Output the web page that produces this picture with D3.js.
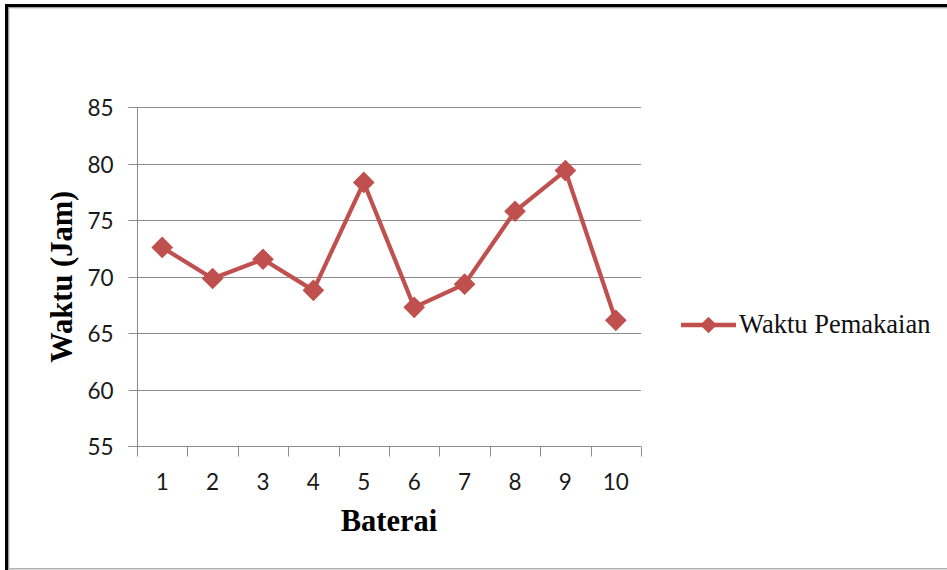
<!DOCTYPE html>
<html>
<head>
<meta charset="utf-8">
<script src="https://cdn.jsdelivr.net/npm/d3@7"></script>
<style>
  html, body { margin: 0; padding: 0; background: #fff; }
  svg { display: block; }
</style>
</head>
<body>
<svg id="chart" width="947" height="570"></svg>
<script>
// Battery usage time per battery
const categories = ["1", "2", "3", "4", "5", "6", "7", "8", "9", "10"];
const waktuPemakaian = [72.6, 69.85, 71.55, 68.8, 78.35, 67.3, 69.35, 75.8, 79.4, 66.15];
const yTicks = [55, 60, 65, 70, 75, 80, 85];
const seriesName = "Waktu Pemakaian";
const xTitle = "Baterai";
const yTitle = "Waktu (Jam)";

const W = 947, H = 570;
const plot = { left: 137, right: 641, top: 107.3, bottom: 446.3 };
const red = "#C0504D";
const grid = "#8C8C8C";
const tickFont = "Lato, 'Open Sans', sans-serif";
const serif = "'Liberation Serif', 'Times New Roman', serif";

const svg = d3.select("#chart");

// frame around the chart
svg.append("rect").attr("x", 0).attr("y", 0).attr("width", W).attr("height", H).attr("fill", "#fff");
svg.append("rect").attr("x", 5).attr("y", 4).attr("width", W - 5).attr("height", 3).attr("fill", "#000");
svg.append("rect").attr("x", 5).attr("y", 4).attr("width", 3).attr("height", H - 4).attr("fill", "#000");
svg.append("rect").attr("x", 8).attr("y", 7).attr("width", W - 8).attr("height", 1.3).attr("fill", "#A0A0A0");
svg.append("rect").attr("x", 8).attr("y", 7).attr("width", 1.3).attr("height", H - 7).attr("fill", "#A0A0A0");
svg.append("rect").attr("x", 8).attr("y", 568).attr("width", W - 8).attr("height", 1.5).attr("fill", "#B0B0B0");

const x = d3.scaleBand().domain(categories).range([plot.left, plot.right]).padding(0);
const y = d3.scaleLinear().domain([55, 85]).range([plot.bottom, plot.top]);

// horizontal gridlines
svg.append("g")
  .selectAll("line")
  .data(yTicks.filter(t => t !== 55))
  .join("line")
  .attr("x1", plot.left).attr("x2", plot.right)
  .attr("y1", d => Math.round(y(d)) + 0.5).attr("y2", d => Math.round(y(d)) + 0.5)
  .attr("stroke", grid).attr("stroke-width", 1);

// y axis
const yAxis = svg.append("g")
  .attr("transform", `translate(${plot.left + 0.5},0)`)
  .call(d3.axisLeft(y).tickValues(yTicks).tickSize(9).tickPadding(15));
yAxis.select(".domain").attr("stroke", grid).attr("d", `M-9,${Math.round(y(55)) + 0.5}H0V${Math.round(y(85)) + 0.5}H-9`);
yAxis.selectAll(".tick line").attr("stroke", grid);
yAxis.selectAll(".tick").attr("transform", d => `translate(0,${Math.round(y(d)) + 0.5})`);
yAxis.selectAll("text")
  .attr("fill", "#1a1a1a")
  .attr("font-family", tickFont)
  .attr("font-size", 22.5)
  .attr("dy", "0.36em");

// x axis with tick marks on category boundaries
const xAxisG = svg.append("g").attr("transform", `translate(0,${Math.round(plot.bottom) + 0.5})`);
xAxisG.append("line")
  .attr("x1", plot.left).attr("x2", plot.right)
  .attr("stroke", grid).attr("stroke-width", 1);
const boundaries = categories.map(c => x(c)).concat([x(categories[categories.length - 1]) + x.bandwidth()]);
xAxisG.selectAll("line.tk")
  .data(boundaries)
  .join("line")
  .attr("class", "tk")
  .attr("x1", d => Math.round(d) + 0.5).attr("x2", d => Math.round(d) + 0.5)
  .attr("y1", 0).attr("y2", 10)
  .attr("stroke", grid).attr("stroke-width", 1);
xAxisG.selectAll("text")
  .data(categories)
  .join("text")
  .attr("x", d => x(d) + x.bandwidth() / 2)
  .attr("y", 43)
  .attr("text-anchor", "middle")
  .attr("fill", "#1a1a1a")
  .attr("font-family", tickFont)
  .attr("font-size", 22.5)
  .text(d => d);

// axis titles
svg.append("text")
  .attr("x", (plot.left + plot.right) / 2)
  .attr("y", 531)
  .attr("text-anchor", "middle")
  .attr("font-family", serif)
  .attr("font-weight", "bold")
  .attr("font-size", 30.5)
  .attr("fill", "#000")
  .text(xTitle);

svg.append("text")
  .attr("transform", `translate(72,${(plot.top + plot.bottom) / 2}) rotate(-90)`)
  .attr("text-anchor", "middle")
  .attr("font-family", serif)
  .attr("font-weight", "bold")
  .attr("font-size", 30.5)
  .attr("fill", "#000")
  .text(yTitle);

// series line
const line = d3.line()
  .x((d, i) => x(categories[i]) + x.bandwidth() / 2)
  .y(d => y(d));

svg.append("path")
  .datum(waktuPemakaian)
  .attr("d", line)
  .attr("fill", "none")
  .attr("stroke", red)
  .attr("stroke-width", 4.2)
  .attr("stroke-linejoin", "round");

const diamond = d3.symbol().type(d3.symbolSquare).size(235);
svg.append("g")
  .selectAll("path")
  .data(waktuPemakaian)
  .join("path")
  .attr("d", diamond)
  .attr("transform", (d, i) => `translate(${x(categories[i]) + x.bandwidth() / 2},${y(d)}) rotate(45)`)
  .attr("fill", red);

// legend
const lg = svg.append("g").attr("transform", "translate(681,325)");
lg.append("line").attr("x1", 0).attr("x2", 55).attr("y1", 0).attr("y2", 0)
  .attr("stroke", red).attr("stroke-width", 4.5);
lg.append("path").attr("d", d3.symbol().type(d3.symbolSquare).size(140))
  .attr("transform", "translate(27.5,0) rotate(45)").attr("fill", red);
lg.append("text")
  .attr("x", 58).attr("y", 8)
  .attr("font-family", serif)
  .attr("font-size", 26.5)
  .attr("fill", "#111")
  .text(seriesName);
</script>
</body>
</html>
